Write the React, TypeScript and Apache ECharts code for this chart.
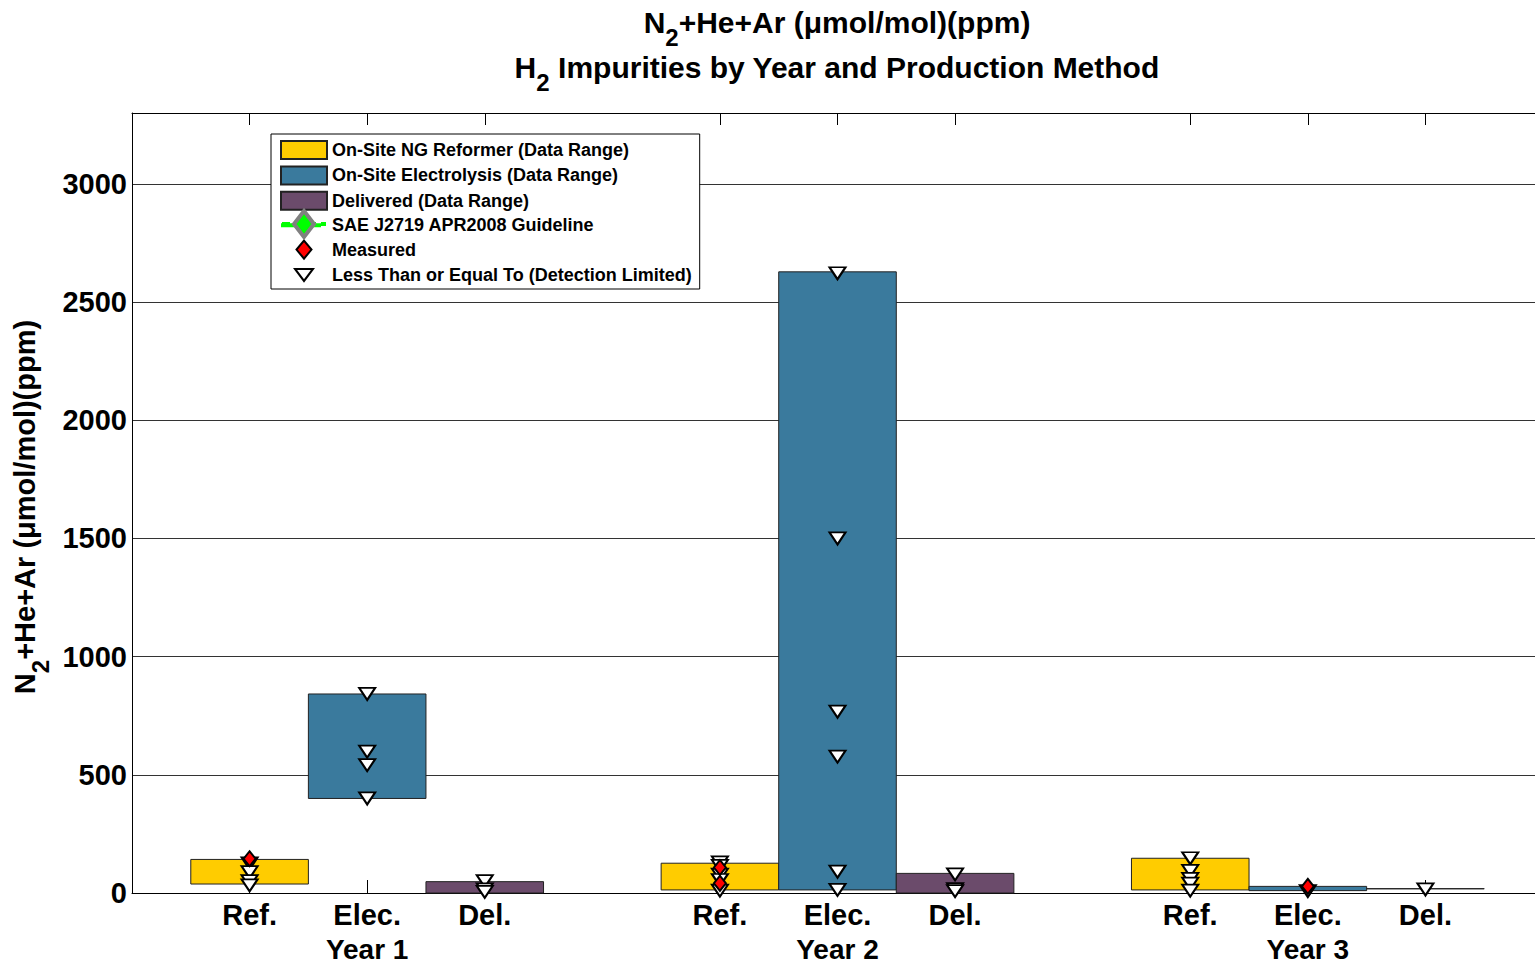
import React, { useEffect, useRef } from 'react';
import * as echarts from 'echarts';

// positions on the x scale (Ref., Elec., Del. for each year)
const xPositions = [1, 2, 3, 5, 6, 7, 9, 10, 11];
const methodLabels = ['Ref.', 'Elec.', 'Del.'];
const yearPositions = [2, 6, 10];
const yearLabels = ['Year 1', 'Year 2', 'Year 3'];

// data ranges (ppm)
const reformerX = [1, 5, 9];
const reformerLow = [38, 13, 13];
const reformerHigh = [142, 126, 147];
const electrolysisX = [2, 6, 10];
const electrolysisLow = [400, 13, 10];
const electrolysisHigh = [842, 2628, 28];
const deliveredX = [3, 7, 11];
const deliveredLow = [0, 0, 17.5];
const deliveredHigh = [48, 83, 18.5];

// measured values
const measuredX = [1, 5, 5, 10];
const measuredY = [145, 108, 41, 28];

// detection-limited values (<=)
const detectX = [1, 1, 1, 1, 2, 2, 2, 2, 3, 3, 3, 5, 5, 5, 5, 5, 6, 6, 6, 6, 6, 6, 7, 7, 7, 9, 9, 9, 9, 9, 10, 11];
const detectY = [125, 88, 50, 32, 842, 598, 541, 400, 50, 15, 5, 130, 115, 78, 55, 10, 2622, 1500, 767, 577, 90, 13, 79, 16, 8, 147, 94, 60, 40, 10, 8, 15];

const guidelineData: number[][] = [];

const yTicks = { min: 0, max: 3300, interval: 500 };
const xRange = { min: 0, max: 12 };

const FONT = 'Arial, "Liberation Sans", Helvetica, sans-serif';

function rangeData(xs: number[], lo: number[], hi: number[]) {
  return xs.map((x, i) => [x, lo[i], hi[i]]);
}

function renderRange(params: any, api: any) {
  const x = api.value(0);
  const lo = api.value(1);
  const hi = api.value(2);
  const p0 = api.coord([x - 0.5, hi]);
  const p1 = api.coord([x + 0.5, lo]);
  return {
    type: 'rect',
    shape: { x: p0[0], y: p0[1], width: p1[0] - p0[0], height: p1[1] - p0[1] },
    style: api.style(),
  };
}

export default function App() {
  const ref = useRef<HTMLDivElement>(null);
  useEffect(() => {
    if (!ref.current) return;
    const chart = echarts.init(ref.current, undefined, { renderer: 'svg' });
    const methodFor = (v: number) => {
      const idx = xPositions.indexOf(v);
      return idx < 0 ? '' : methodLabels[idx % 3];
    };
    const yearFor = (v: number) => {
      const idx = yearPositions.indexOf(v);
      return idx < 0 ? '' : yearLabels[idx];
    };
    const richTitle = {
      m: { fontSize: 30, fontWeight: 'bold', fontFamily: FONT, fill: '#000', lineHeight: 36 },
      s: { fontSize: 24, fontWeight: 'bold', fontFamily: FONT, fill: '#000', lineHeight: 24, padding: [31, 0, 0, 0] },
    };
    const richY = {
      m: { fontSize: 29, fontWeight: 'bold', fontFamily: FONT, fill: '#000', lineHeight: 34 },
      s: { fontSize: 24, fontWeight: 'bold', fontFamily: FONT, fill: '#000', lineHeight: 24, padding: [30, 0, 0, 0] },
    };
    const option: any = {
      animation: false,
      backgroundColor: '#fff',
      grid: { left: 132, top: 113, right: -8, bottom: 74, containLabel: false, outerBoundsMode: 'none' },
      graphic: [
        {
          type: 'text', x: 837, y: 22, z: 10,
          style: {
            text: '{m|N}{s|2}{m|+He+Ar (μmol/mol)(ppm)}',
            rich: richTitle, align: 'center', verticalAlign: 'middle',
          },
        },
        {
          type: 'text', x: 837, y: 67, z: 10,
          style: {
            text: '{m|H}{s|2}{m| Impurities by Year and Production Method}',
            rich: richTitle, align: 'center', verticalAlign: 'middle',
          },
        },
        {
          type: 'text', x: 25, y: 507, rotation: Math.PI / 2, z: 10,
          style: {
            text: '{m|N}{s|2}{m|+He+Ar (μmol/mol)(ppm)}',
            rich: richY, align: 'center', verticalAlign: 'middle',
          },
        },
        // enlarged legend glyph for the guideline entry
        {
          type: 'group', z: 100,
          children: [
            {
              type: 'line', z: 100,
              shape: { x1: 282, y1: 224, x2: 326, y2: 224 },
              style: { stroke: '#00FF00', lineWidth: 4, lineDash: [8, 5] },
            },
            {
              type: 'polygon', z: 101,
              shape: { points: [[304, 211], [314, 224], [304, 237], [294, 224]] },
              style: { fill: '#00FF00', stroke: '#808080', lineWidth: 4 },
            },
          ],
        },
      ],
      legend: {
        orient: 'vertical',
        left: 271,
        top: 134,
        padding: [6, 8, 4, 8],
        itemWidth: 46,
        itemHeight: 18,
        itemGap: 5.4,
        backgroundColor: '#fff',
        borderColor: '#000',
        borderWidth: 1,
        borderRadius: 0,
        symbolKeepAspect: true,
        textStyle: { fontFamily: FONT, fontWeight: 'bold', fontSize: 18, lineHeight: 18, color: '#000' },
        data: [
          { name: 'On-Site NG Reformer (Data Range)', icon: 'rect' },
          { name: 'On-Site Electrolysis (Data Range)', icon: 'rect' },
          { name: 'Delivered (Data Range)', icon: 'rect' },
          {
            name: 'SAE J2719 APR2008 Guideline',
            lineStyle: { color: '#00FF00', width: 4, type: 'dashed' },
            itemStyle: { color: '#00FF00', borderColor: '#808080', borderWidth: 3 },
          },
          { name: 'Measured', icon: 'path://M5,0 L10,6 L5,12 L0,6 Z' },
          { name: 'Less Than or Equal To (Detection Limited)', icon: 'path://M8,-2.6 M0,0 L16,0 L8,10.7 Z M8,13.4' },
        ],
      },
      xAxis: [
        {
          type: 'value', min: xRange.min, max: xRange.max, interval: 1,
          axisLine: { show: true, lineStyle: { color: '#000', width: 1 } },
          axisTick: { show: true, inside: true, length: 13, customValues: xPositions, lineStyle: { color: '#000' } },
          axisLabel: {
            customValues: xPositions,
            formatter: (v: number) => methodFor(v),
            margin: 5,
            fontFamily: FONT, fontWeight: 'bold', fontSize: 29, color: '#000', lineHeight: 34,
          },
          splitLine: { show: false },
        },
        {
          type: 'value', min: xRange.min, max: xRange.max, interval: 1, position: 'top',
          axisLine: { show: true, onZero: false, lineStyle: { color: '#000', width: 1 } },
          axisTick: { show: true, inside: true, length: 12, customValues: xPositions, lineStyle: { color: '#000' } },
          axisLabel: { show: false },
          splitLine: { show: false },
        },
        {
          type: 'value', min: xRange.min, max: xRange.max, interval: 1, position: 'bottom',
          axisLine: { show: false },
          axisTick: { show: false },
          axisLabel: {
            customValues: yearPositions,
            formatter: (v: number) => yearFor(v),
            margin: 44,
            fontFamily: FONT, fontWeight: 'bold', fontSize: 28, color: '#000', lineHeight: 24,
          },
          splitLine: { show: false },
        },
      ],
      yAxis: {
        type: 'value', min: yTicks.min, max: yTicks.max, interval: yTicks.interval,
        axisLine: { show: true, lineStyle: { color: '#000', width: 1 } },
        axisTick: { show: false },
        axisLabel: {
          showMaxLabel: false,
          formatter: (v: number) => String(v),
          fontFamily: FONT, fontWeight: 'bold', fontSize: 29, color: '#000', margin: 5,
        },
        splitLine: { show: true, lineStyle: { color: '#333', width: 1 } },
      },
      series: [
        {
          name: 'On-Site NG Reformer (Data Range)', type: 'custom', renderItem: renderRange,
          encode: { x: 0, y: [1, 2] }, data: rangeData(reformerX, reformerLow, reformerHigh),
          itemStyle: { color: '#FFCC00', borderColor: '#222', borderWidth: 1 }, z: 2,
        },
        {
          name: 'On-Site Electrolysis (Data Range)', type: 'custom', renderItem: renderRange,
          encode: { x: 0, y: [1, 2] }, data: rangeData(electrolysisX, electrolysisLow, electrolysisHigh),
          itemStyle: { color: '#3A7A9D', borderColor: '#222', borderWidth: 1 }, z: 2,
        },
        {
          name: 'Delivered (Data Range)', type: 'custom', renderItem: renderRange,
          encode: { x: 0, y: [1, 2] }, data: rangeData(deliveredX, deliveredLow, deliveredHigh),
          itemStyle: { color: '#6B4B6B', borderColor: '#222', borderWidth: 1 }, z: 2,
        },
        {
          name: 'SAE J2719 APR2008 Guideline', type: 'line', data: guidelineData,
          symbol: 'diamond', symbolSize: [20, 26],
          lineStyle: { color: '#00FF00', width: 4, type: 'dashed' },
          itemStyle: { color: '#00FF00', borderColor: '#808080', borderWidth: 3 },
        },
        {
          name: 'Less Than or Equal To (Detection Limited)', type: 'scatter',
          data: detectX.map((x, i) => [x, detectY[i]]),
          symbol: 'triangle', symbolRotate: 180, symbolSize: [16, 12],
          itemStyle: { color: '#fff', borderColor: '#000', borderWidth: 2, opacity: 1 }, z: 3,
        },
        {
          name: 'Measured', type: 'scatter',
          data: measuredX.map((x, i) => [x, measuredY[i]]),
          symbol: 'diamond', symbolSize: [12, 15],
          itemStyle: { color: '#FF0000', borderColor: '#000', borderWidth: 2, opacity: 1 }, z: 4,
        },
      ],
    };
    chart.setOption(option);
    return () => chart.dispose();
  }, []);
  return (
    <div
      ref={ref}
      style={{ position: 'fixed', left: 0, top: 0, width: 1535, height: 967, background: '#fff' }}
    />
  );
}
